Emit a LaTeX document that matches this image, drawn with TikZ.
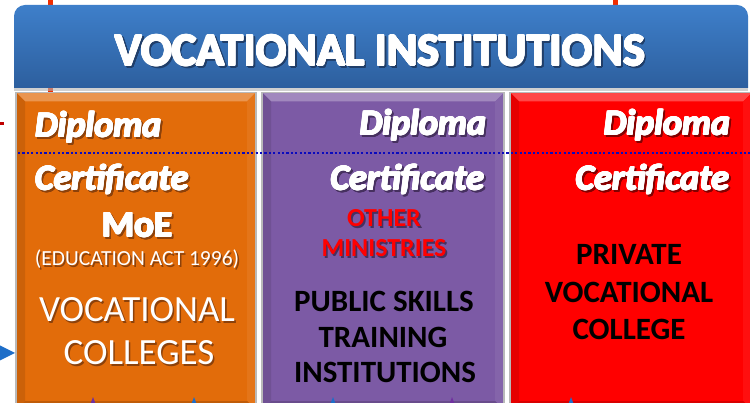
\documentclass[tikz,border=0pt]{standalone}
\usepackage{fontspec}
\setmainfont{Carlito}
\usepackage{contour}
\contourlength{0.75pt}
\contournumber{12}

\definecolor{orangeM}{RGB}{226,108,10}
\definecolor{purpleM}{RGB}{124,90,165}
\definecolor{redM}{RGB}{255,0,0}
\definecolor{headTop}{RGB}{62,127,202}
\definecolor{headBot}{RGB}{45,95,158}
\definecolor{frameGray}{RGB}{185,185,185}
\definecolor{stubRed}{RGB}{240,45,0}
\definecolor{dotBlue}{RGB}{10,10,190}
\definecolor{tipBlue}{RGB}{30,110,200}
\definecolor{tipPurple}{RGB}{112,48,160}
\definecolor{orangeSh}{RGB}{140,65,10}
\definecolor{purpleSh}{RGB}{70,48,95}
\definecolor{redSh}{RGB}{130,0,0}
\definecolor{headSh}{RGB}{32,62,105}

\tikzset{
  txt/.style={inner sep=0pt, outer sep=0pt},
  stub/.style={stubRed, line width=5pt},
  titlefont/.style={font=\bfseries\fontsize{46}{46}\selectfont},
  degfont/.style={font=\bfseries\itshape\fontsize{36}{36}\selectfont},
  bigwhite/.style={text=white, font=\fontsize{37}{37}\selectfont},
  moefont/.style={font=\bfseries\fontsize{37}{37}\selectfont},
  actfont/.style={text=white, font=\fontsize{21.5}{21.5}\selectfont},
  minfont/.style={text=redM, font=\bfseries\fontsize{26}{26}\selectfont},
  blackbold/.style={txt, text=black, font=\bfseries\fontsize{31}{31}\selectfont, anchor=base},
}

% text with a drop shadow: name, style, shadow colour, position, text
\newcommand\shtxt[5]{%
  \node[txt,#2,text=#3] (#1-s) at ([shift={(1.6,1.6)}]#4) {#5};
  \node[txt,#2] (#1) at (#4) {#5};}

% heavy white text with rounded outline and shadow: name, style, shadow colour, position, text
\newcommand\heavytxt[5]{%
  \node[txt,#2,text=#3] (#1-s) at ([shift={(1.8,1.8)}]#4) {\contour{#3}{#5}};
  \node[txt,#2,text=white] (#1) at (#4) {\contour{white}{#5}};}

% bevelled panel: x1, y1, x2, y2, colour
\newcommand\bevelpanel[5]{%
  \fill[#5] (#1,#2) rectangle (#3,#4);
  \fill[#5!72!white] (#1,#2) -- (#3,#2) -- (#3-9,#2+9) -- (#1+9,#2+9) -- cycle;
  \fill[#5!90!black] (#1,#2) -- (#1+9,#2+9) -- (#1+9,#4-9) -- (#1,#4) -- cycle;
  \fill[#5!94!white] (#3,#2) -- (#3-9,#2+9) -- (#3-9,#4-9) -- (#3,#4) -- cycle;
  \fill[#5!85!black] (#1,#4) -- (#1+9,#4-9) -- (#3-9,#4-9) -- (#3,#4) -- cycle;
  \draw[frameGray, line width=1.5pt] (#1,#2) rectangle (#3,#4);}

\begin{document}
\begin{tikzpicture}[x=1pt,y=-1pt]
  \useasboundingbox (0,0) rectangle (750,403);
  \fill[white] (0,0) rectangle (750,403);

  % connector stubs passing behind the header
  \coordinate (s1a) at (50,-2);
  \coordinate (s1b) at (50,96);
  \coordinate (s2a) at (615,-2);
  \coordinate (s2b) at (615,20);
  \draw[stub] (s1a) -- (s1b);
  \draw[stub] (s2a) -- (s2b);
  \coordinate (tka) at (-1,123.5);
  \coordinate (tkb) at (3.5,123.5);
  \draw[red!75!black, line width=2.5pt] (tka) -- (tkb);

  % header bar
  \fill[gray!60, opacity=.6] (14,88) rectangle (748,91.5);
  \shade[top color=headTop, bottom color=headBot]
    (14,88) [rounded corners=11] -- (14,5) -- (748,5) [sharp corners] -- (748,88) -- cycle;
  \heavytxt{title}{titlefont,anchor=base}{headSh}{380,65.5}{VOCATIONAL INSTITUTIONS}

  % three panels
  \bevelpanel{16}{92.5}{256}{410}{orangeM}
  \bevelpanel{262}{92.5}{504}{410}{purpleM}
  \bevelpanel{510}{92.5}{752}{410}{redM}

  % dotted divider between diploma and certificate levels
  \coordinate (dl) at (18,153);
  \coordinate (dr) at (752,153);
  \draw[dotBlue, line width=2.5pt, dash pattern=on 2.2pt off 2.2pt] (dl) -- (dr);

  % level labels
  \heavytxt{dipA}{degfont,anchor=base west}{orangeSh}{35,137}{Diploma}
  \heavytxt{cerA}{degfont,anchor=base west}{orangeSh}{35,190}{Certificate}
  \heavytxt{dipB}{degfont,anchor=base east}{purpleSh}{486,135}{Diploma}
  \heavytxt{cerB}{degfont,anchor=base east}{purpleSh}{484,190}{Certificate}
  \heavytxt{dipC}{degfont,anchor=base east}{redSh}{730,135}{Diploma}
  \heavytxt{cerC}{degfont,anchor=base east}{redSh}{729,190}{Certificate}

  % orange panel
  \heavytxt{moe}{moefont,anchor=base}{orangeSh}{137,237}{MoE}
  \shtxt{act}{actfont,anchor=base}{orangeSh}{137,266}{(EDUCATION ACT 1996)}
  \shtxt{vc1}{bigwhite,anchor=base}{orangeSh}{137,322}{VOCATIONAL}
  \shtxt{vc2}{bigwhite,anchor=base}{orangeSh}{139,365}{COLLEGES}

  % purple panel
  \shtxt{om1}{minfont,anchor=base}{purpleSh}{384,227}{OTHER}
  \shtxt{om2}{minfont,anchor=base}{purpleSh}{384,257}{MINISTRIES}
  \node[blackbold] (ps1) at (384,312) {PUBLIC SKILLS};
  \node[blackbold] (ps2) at (383,348) {TRAINING};
  \node[blackbold] (ps3) at (385,383) {INSTITUTIONS};

  % red panel
  \node[blackbold] (pv1) at (629,265) {PRIVATE};
  \node[blackbold] (pv2) at (629,303) {VOCATIONAL};
  \node[blackbold] (pv3) at (629,340) {COLLEGE};

  % incoming arrow tips
  \fill[tipBlue] (-3,344) -- (15,353) -- (-3,362) -- cycle;
  \fill[tipPurple] (90,405) -- (93,397) -- (96,405) -- cycle;
  \fill[tipBlue] (191,405) -- (194,397) -- (197,405) -- cycle;
  \fill[tipBlue] (330,405) -- (333,397) -- (336,405) -- cycle;
  \fill[tipPurple] (449,405) -- (452,397) -- (455,405) -- cycle;
  \fill[tipBlue] (568,405) -- (571,397) -- (574,405) -- cycle;
\end{tikzpicture}
\end{document}
